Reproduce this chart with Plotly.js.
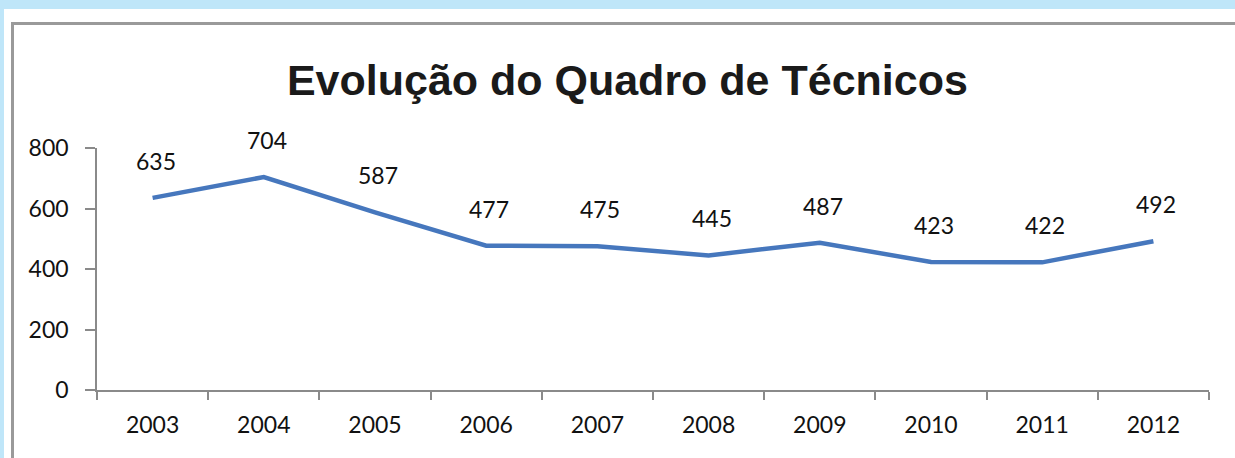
<!DOCTYPE html>
<html>
<head>
<meta charset="utf-8">
<script src="https://cdn.plot.ly/plotly-3.0.1.min.js"></script>
<style>
  html, body { margin: 0; padding: 0; }
  body { width: 1235px; height: 458px; background: #bfe6f9; position: relative; overflow: hidden; }
  #panel { position: absolute; left: 4px; top: 9px; width: 1231px; height: 449px; background: #ffffff; }
  #frame { position: absolute; left: 11px; top: 22px; width: 1224px; height: 436px;
           border-top: 3px solid #9a9a9a; border-left: 3px solid #9a9a9a; box-sizing: border-box; }
  #chart { position: absolute; left: 0; top: 0; width: 1235px; height: 458px; }
</style>
</head>
<body>
<div id="panel"></div>
<div id="frame"></div>
<div id="chart"></div>
<script>
// Evolução do Quadro de Técnicos
const anos = ['2003', '2004', '2005', '2006', '2007', '2008', '2009', '2010', '2011', '2012'];
const tecnicos = [635, 704, 587, 477, 475, 445, 487, 423, 422, 492];
const yTicks = [0, 200, 400, 600, 800];

const fonteEixo = { family: 'Lato, "Open Sans", sans-serif', size: 23, color: '#111111' };

// rótulos de dados acima de cada ponto (x = índice da categoria)
const rotulos = anos.map((a, i) => ({
    x: i,
    y: tecnicos[i],
    xref: 'x',
    yref: 'y',
    text: String(tecnicos[i]),
    showarrow: false,
    xanchor: 'center',
    yanchor: 'middle',
    xshift: 3,
    yshift: 37,
    font: fonteEixo
}));

Plotly.newPlot('chart', [{
    x: anos,
    y: tecnicos,
    type: 'scatter',
    mode: 'lines',
    line: { color: '#4677bd', width: 4.5 },
    hoverinfo: 'x+y'
}], {
    width: 1235,
    height: 458,
    paper_bgcolor: 'rgba(0,0,0,0)',
    plot_bgcolor: 'rgba(0,0,0,0)',
    margin: { l: 97, r: 26, t: 148, b: 68 },
    showlegend: false,
    title: {
        text: 'Evolução do Quadro de Técnicos',
        font: { family: '"Liberation Sans", Arial, sans-serif', size: 43, color: '#1a1a1a', weight: 'bold' },
        x: 0.508,
        xanchor: 'center',
        y: 0.825,
        yanchor: 'middle'
    },
    xaxis: {
        type: 'category',
        range: [-0.5, 9.5],
        tickson: 'boundaries',
        ticks: 'outside',
        ticklen: 8,
        tickwidth: 1.5,
        tickcolor: '#8a8a8a',
        showline: true,
        linecolor: '#8a8a8a',
        linewidth: 1.5,
        showgrid: false,
        zeroline: false,
        ticklabelstandoff: 14,
        tickfont: fonteEixo
    },
    yaxis: {
        range: [0, 800],
        tickvals: yTicks,
        ticks: 'outside',
        ticklen: 10,
        tickwidth: 1.5,
        tickcolor: '#8a8a8a',
        showline: true,
        linecolor: '#8a8a8a',
        linewidth: 1.5,
        showgrid: false,
        zeroline: false,
        ticklabelstandoff: 12,
        tickfont: fonteEixo
    },
    annotations: rotulos
}, { displayModeBar: false, responsive: false });
</script>
</body>
</html>
